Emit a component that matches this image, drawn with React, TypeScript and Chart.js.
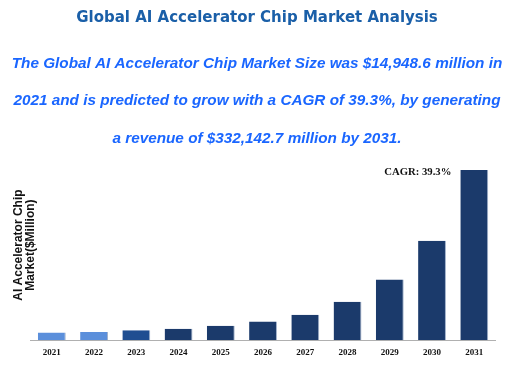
import React, { useEffect, useRef } from "react";
import { Chart, registerables } from "chart.js";

Chart.register(...registerables);

const TITLE = "Global AI Accelerator Chip Market Analysis";
const SUBTITLE_LINES = [
  "The Global AI Accelerator Chip Market Size was $14,948.6 million in",
  "2021 and is predicted to grow with a CAGR of 39.3%, by generating",
  "a revenue of $332,142.7 million by 2031.",
];
const YEARS = ["2021", "2022", "2023", "2024", "2025", "2026", "2027", "2028", "2029", "2030", "2031"];
const MARKET_SIZE = [14948.6, 15800, 19600, 22200, 28000, 36700, 49600, 75100, 118300, 194200, 332142.7];
const BAR_COLORS = ["#5b8fdb", "#5b8fdb", "#1f4e91", "#1b3a6b", "#1b3a6b", "#1b3a6b", "#1b3a6b", "#1b3a6b", "#1b3a6b", "#1b3a6b", "#1b3a6b"];
const Y_TITLE = ["AI Accelerator Chip", "Market($Million)"];
const CAGR_LABEL = "CAGR: 39.3%";

const cagrPlugin = {
  id: "cagrLabel",
  afterDatasetsDraw(chart: any) {
    const meta = chart.getDatasetMeta(0);
    const last = meta.data[meta.data.length - 1];
    if (!last) return;
    const ctx = chart.ctx;
    ctx.save();
    ctx.font = "bold 10.7px 'Liberation Serif', 'Times New Roman', serif";
    ctx.fillStyle = "#111111";
    ctx.textAlign = "right";
    ctx.textBaseline = "middle";
    const w = last.width;
    ctx.fillText(CAGR_LABEL, last.x - w / 2 - 9, last.y + 2);
    ctx.restore();
  },
};

const yTitlePlugin = {
  id: "yTitle",
  afterDraw(chart: any) {
    const ctx = chart.ctx;
    const area = chart.chartArea;
    ctx.save();
    ctx.font = "bold 12px Arial, 'Liberation Sans', sans-serif";
    ctx.fillStyle = "#111111";
    ctx.textAlign = "center";
    ctx.textBaseline = "middle";
    const cy = (area.top + area.bottom) / 2 - 10;
    Y_TITLE.forEach((line, i) => {
      ctx.save();
      ctx.translate(area.left - 12 + i * 11.5, cy);
      ctx.rotate(-Math.PI / 2);
      ctx.fillText(line, 0, 0);
      ctx.restore();
    });
    ctx.restore();
  },
};

export default function App() {
  const ref = useRef<HTMLCanvasElement | null>(null);
  useEffect(() => {
    document.body.style.margin = "0";
    const canvas = ref.current;
    if (!canvas) return;
    const chart = new Chart(canvas, {
      type: "bar",
      data: {
        labels: YEARS,
        datasets: [
          {
            data: MARKET_SIZE,
            backgroundColor: BAR_COLORS,
            borderColor: "#a3b3cc",
            borderWidth: { top: 0, left: 0, bottom: 0, right: 1 },
            borderSkipped: false,
            barPercentage: 0.66,
            categoryPercentage: 1,
          },
        ],
      },
      options: {
        animation: false,
        responsive: false,
        devicePixelRatio: 1,
        layout: { padding: { left: 0, right: 0, top: 0, bottom: 4 } },
        plugins: {
          legend: { display: false },
          tooltip: { enabled: false },
          title: {
            display: true,
            text: TITLE,
            color: "#1a5fa8",
            font: { family: "'DejaVu Sans', Verdana, sans-serif", size: 15, weight: "bold", lineHeight: 1.2 },
            padding: { top: 9, bottom: 18 },
          },
          subtitle: {
            display: true,
            text: SUBTITLE_LINES,
            color: "#1a66ff",
            font: { family: "Arial, 'Liberation Sans', sans-serif", size: 15.3, weight: "bold", style: "italic", lineHeight: 2.44 },
            padding: { top: 0, bottom: 13 },
          },
        },
        scales: {
          x: {
            grid: { display: false, drawTicks: false },
            border: { display: true, color: "#b0b0b0", width: 1 },
            ticks: {
              color: "#111111",
              padding: 7,
              font: { family: "'Liberation Serif', 'Times New Roman', serif", size: 9, weight: "bold" },
            },
          },
          y: {
            display: true,
            position: "left",
            min: 0,
            max: 332142.7,
            grid: { display: false, drawTicks: false },
            border: { display: false },
            ticks: { display: false },
            afterFit: (scale: any) => {
              scale.width = 30.7;
            },
          },
          yRight: {
            type: "linear",
            display: true,
            position: "right",
            grid: { display: false, drawTicks: false },
            border: { display: false },
            ticks: { display: false },
            afterFit: (scale: any) => {
              scale.width = 18.6;
            },
          },
        },
      },
      plugins: [cagrPlugin, yTitlePlugin],
    });
    return () => chart.destroy();
  }, []);
  return (
    <div style={{ position: "relative", width: 514, height: 369 }}>
      <canvas ref={ref} width={514} height={369} style={{ display: "block", width: 514, height: 369 }} />
    </div>
  );
}
